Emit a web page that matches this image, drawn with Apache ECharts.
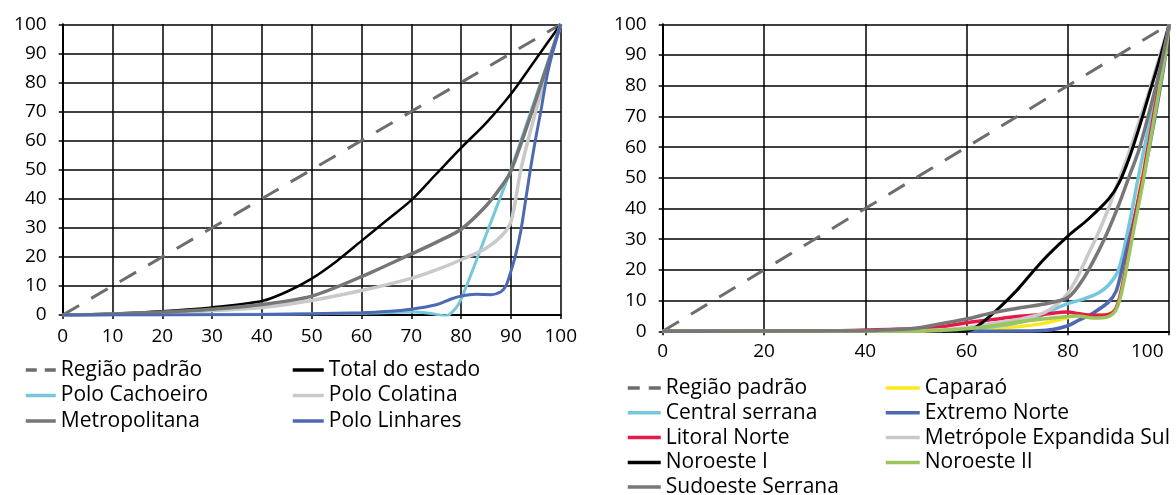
<!DOCTYPE html>
<html>
<head>
<meta charset="utf-8">
<script src="https://cdn.jsdelivr.net/npm/echarts@6/dist/echarts.min.js"></script>
<style>
  html, body { margin: 0; padding: 0; background: #fff; }
  #chart { width: 1176px; height: 495px; }
</style>
</head>
<body>
<div id="chart"></div>
<script>
// Cumulative curves, [x %, y %] pairs

// Left panel
const regiaoPadrao = [[0, 0], [100, 100]];
const totalEstado = [[0,0],[10,0.5],[20,1.3],[30,2.6],[40,4.8],[45,8],[50,12.5],[55,18.5],[60,25.5],[65,32.5],[70,39.5],[75,48.5],[80,57.5],[85,66],[90,76],[95,88],[100,100]];
const poloCachoeiro = [[0,0],[20,0.1],[40,0.3],[60,0.6],[70,1],[74,0.5],[77,-0.3],[79,2.5],[80,5.5],[82,14],[84,23],[86,32],[88,41],[90,50],[95,75],[100,100]];
const poloColatina = [[0,0],[10,0.3],[20,0.8],[30,1.5],[40,2.6],[50,5],[60,8.4],[70,12.6],[75,15.5],[80,19],[85,23],[88,27],[90,32],[92,50],[94.5,67],[97,82],[100,100]];
const metropolitana = [[0,0],[10,0.3],[20,1],[30,2],[40,3.6],[50,6.5],[60,13.2],[70,21],[75,25],[80,29.5],[85,37.5],[88,44],[90,49.5],[95,74],[100,100]];
const poloLinhares = [[0,0],[20,0],[40,0.2],[50,0.4],[60,0.8],[65,1.2],[70,2],[75,3.5],[78,5.5],[80,6.5],[83,7.1],[86,7],[88,8],[89,10],[90,15],[91,21],[92,29],[93,40],[94,51],[95,61],[96,70],[97,80],[98,88],[100,100]];

// Right panel
const caparao = [[0,0],[50,0],[60,0.3],[70,1.5],[75,2.5],[80,4.5],[82,5.5],[85,5.3],[88,5.6],[89.5,7.5],[90.5,13],[91.5,22],[93,36],[95,53],[97,72],[99,90],[100,100]];
const centralSerrana = [[0,0],[50,0],[60,0.6],[65,1.5],[70,2.8],[74,4.5],[77,7],[80,9],[83,10.5],[86,12.5],[88,15],[90,20],[92,34],[94,51],[96,67],[98,84],[100,100]];
const extremoNorte = [[0,0],[60,0],[70,0.1],[74,0.2],[77,0.6],[80,1.8],[82,3.5],[85,6],[88,9.5],[89.5,13],[90.5,19],[91.5,26],[93,36],[95,51],[97,68],[99,87],[100,100]];
const litoralNorte = [[0,0],[30,0],[40,0.4],[50,0.9],[55,1.5],[60,2.8],[65,3.8],[70,4.8],[75,5.5],[80,6.3],[82,5.8],[85,5.2],[88,5.5],[89.5,7.5],[90.5,13],[91.5,21],[93,35],[95,52],[97,71],[99,89],[100,100]];
const metropoleSul = [[0,0],[50,0.2],[55,0.5],[60,1.2],[65,2.6],[70,3.8],[75,5.8],[78,9],[80,12.5],[82,18],[84,25],[86,32],[88,40],[90,49],[92,58],[94,68],[96,78],[98,89],[100,100]];
const noroesteI = [[0,0],[40,0],[50,-0.2],[55,-0.7],[58,-0.5],[60,0],[62,1.5],[66,7],[70,13.5],[75,23],[80,31],[84,36.5],[88,43],[90,48],[92,56],[94,66],[96,77],[98,88],[100,100]];
const noroesteII = [[0,0],[50,0],[55,0.3],[60,0.8],[65,1.8],[70,3],[75,4],[80,4.8],[82,5],[85,4.3],[88,4.8],[89.5,7],[90.5,12],[91.5,20],[93,33],[95,50],[97,69],[99,88],[100,100]];
const sudoesteSerrana = [[0,0],[40,0.2],[45,0.5],[50,1],[55,2.5],[60,4],[65,6],[70,7.5],[75,8.8],[80,11],[83,17],[86,26],[88,33],[90,41],[92,50],[94,59],[96,71],[98,84],[100,100]];

const FONT = '"Open Sans", "Noto Sans", sans-serif';
const DASH = [19, 14];

function curve(name, data, color, width, grid) {
  return {
    name: name,
    type: 'line',
    xAxisIndex: grid,
    yAxisIndex: grid,
    data: data,
    symbol: 'none',
    smooth: 0.3,
    lineStyle: { color: color, width: width },
    itemStyle: { color: color },
    emphasis: { disabled: true },
    animation: false
  };
}

function dashed(grid) {
  return {
    name: 'Região padrão',
    type: 'line',
    xAxisIndex: grid,
    yAxisIndex: grid,
    data: regiaoPadrao,
    symbol: 'none',
    lineStyle: { color: '#6d6d6d', width: 3, type: DASH, cap: 'butt' },
    itemStyle: { color: '#6d6d6d' },
    emphasis: { disabled: true },
    animation: false
  };
}

function xAxis(grid, interval, margin, shiftLast) {
  return {
    type: 'value', gridIndex: grid, min: 0, max: 100, interval: interval,
    axisLine: { show: true, onZero: false, lineStyle: { color: '#000', width: 2 } },
    axisTick: { show: true, length: 4, lineStyle: { color: '#000', width: 1.5 } },
    splitLine: { show: true, lineStyle: { color: '#000', width: 1.5 } },
    axisLabel: {
      color: '#000', fontSize: 19, fontFamily: FONT, margin: margin,
      // the last label is pulled left so it stays inside the canvas
      formatter: shiftLast ? (v => v === 100 ? '{last|100}' : String(v)) : null,
      rich: shiftLast ? { last: { color: '#000', fontSize: 19, fontFamily: FONT, padding: [0, 44, 0, 0] } } : undefined
    }
  };
}

function yAxis(grid, margin) {
  return {
    type: 'value', gridIndex: grid, min: 0, max: 100, interval: 10,
    axisLine: { show: true, onZero: false, lineStyle: { color: '#000', width: 2 } },
    axisTick: { show: true, length: 4, lineStyle: { color: '#000', width: 1.5 } },
    splitLine: { show: true, lineStyle: { color: '#000', width: 1.5 } },
    axisLabel: { color: '#000', fontSize: 19, fontFamily: FONT, margin: margin }
  };
}

// One legend column: line-only keys (marker dot hidden)
function legend(left, top, gap, iconW, names, dash) {
  return {
    orient: 'vertical',
    left: left, top: top,
    itemWidth: iconW, itemHeight: 2,
    itemGap: gap,
    selectedMode: false,
    padding: 0,
    textStyle: { color: '#000', fontSize: 21, fontFamily: FONT, lineHeight: 22 },
    data: names.map(n => n === 'Região padrão'
      ? { name: n, lineStyle: { type: dash, width: 3.5 }, itemStyle: { opacity: 0 } }
      : { name: n, lineStyle: { width: 3.5 }, itemStyle: { opacity: 0 } })
  };
}

const chart = echarts.init(document.getElementById('chart'), null, { renderer: 'canvas' });

chart.setOption({
  backgroundColor: '#fff',
  animation: false,
  grid: [
    { left: 62.7, right: 615.3, top: 24.3, bottom: 180 },
    { left: 662.7, right: 6.8, top: 24.3, bottom: 163.7 }
  ],
  xAxis: [xAxis(0, 10, 12, false), xAxis(1, 20, 11, true)],
  yAxis: [yAxis(0, 16), yAxis(1, 16)],
  legend: [
    legend(24, 359, 3.5, 30, ['Região padrão', 'Polo Cachoeiro', 'Metropolitana'], [11, 8]),
    legend(291, 359, 3.5, 31, ['Total do estado', 'Polo Colatina', 'Polo Linhares']),
    legend(626, 377, 2.8, 33, ['Região padrão', 'Central serrana', 'Litoral Norte', 'Noroeste I'], [12, 9]),
    legend(626, 476, 2.8, 33, ['Sudoeste Serrana']),
    legend(884, 377, 2.8, 34, ['Caparaó', 'Extremo Norte', 'Metrópole Expandida Sul', 'Noroeste II'])
  ],
  series: [
    dashed(0),
    curve('Total do estado', totalEstado, '#000000', 2.5, 0),
    curve('Polo Cachoeiro', poloCachoeiro, '#74c7dd', 3, 0),
    curve('Polo Colatina', poloColatina, '#c9c9c9', 3.5, 0),
    curve('Metropolitana', metropolitana, '#767676', 3.5, 0),
    curve('Polo Linhares', poloLinhares, '#4d69b1', 3, 0),

    dashed(1),
    curve('Caparaó', caparao, '#ffe81a', 3.5, 1),
    curve('Central serrana', centralSerrana, '#74c7dd', 3.5, 1),
    curve('Extremo Norte', extremoNorte, '#4d69b1', 3.5, 1),
    curve('Litoral Norte', litoralNorte, '#e6194b', 3.5, 1),
    curve('Metrópole Expandida Sul', metropoleSul, '#c9c9c9', 3.5, 1),
    curve('Noroeste I', noroesteI, '#000000', 3, 1),
    curve('Noroeste II', noroesteII, '#9bc45c', 3.5, 1),
    curve('Sudoeste Serrana', sudoesteSerrana, '#777777', 3.5, 1)
  ]
});
</script>
</body>
</html>
